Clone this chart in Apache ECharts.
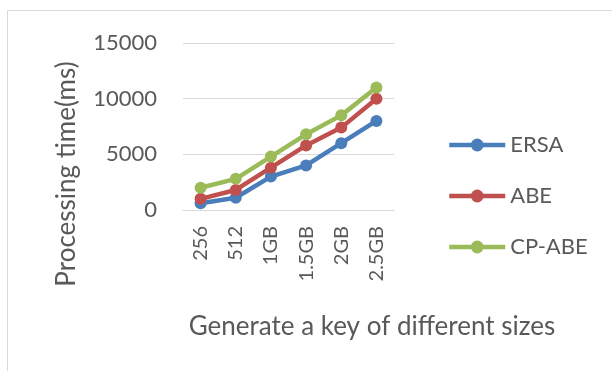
<!DOCTYPE html>
<html><head><meta charset="utf-8">
<script src="https://cdn.jsdelivr.net/npm/echarts@6/dist/echarts.min.js"></script>
<style>html,body{margin:0;padding:0;background:#fff}#c{width:612px;height:371px}</style>
</head><body><div id="c"></div>
<script>
const categories = ['256', '512', '1GB', '1.5GB', '2GB', '2.5GB'];
const ersa = [600, 1100, 3000, 4000, 6000, 8000];
const abe = [1000, 1800, 3800, 5800, 7400, 10000];
const cpabe = [2000, 2800, 4800, 6800, 8500, 11000];
const yTicks = [0, 5000, 10000, 15000];
const seriesNames = ['ERSA', 'ABE', 'CP-ABE'];
const colors = ['#4a7ebb', '#c0504d', '#9bbb59'];
const FONT = 'Lato';
const TXT = '#595959';

const chart = echarts.init(document.getElementById('c'), null, {renderer: 'canvas'});
const mk = (name, data, color) => ({
  name, type: 'line', data,
  symbol: 'circle', symbolSize: 12,
  lineStyle: {width: 4.5, color},
  itemStyle: {color},
  emphasis: {disabled: true}
});
chart.setOption({
  animation: false,
  grid: {left: 183, right: 218, top: 43, bottom: 161},
  xAxis: {
    type: 'category', data: categories, boundaryGap: true,
    axisLine: {show: true, lineStyle: {color: '#d9d9d9', width: 1}},
    axisTick: {show: false},
    axisLabel: {rotate: 90, margin: 16, color: TXT, fontFamily: FONT, fontSize: 20}
  },
  yAxis: {
    type: 'value', min: yTicks[0], max: yTicks[yTicks.length - 1], interval: 5000,
    axisLine: {show: false}, axisTick: {show: false},
    splitLine: {lineStyle: {color: '#d9d9d9', width: 1}},
    axisLabel: {margin: 26, color: TXT, fontFamily: FONT, fontSize: 22, formatter: v => String(v)}
  },
  legend: {
    orient: 'vertical', left: 442, top: 129,
    itemWidth: 56, itemHeight: 16, itemGap: 29,
    lineStyle: {width: 4.5},
    textStyle: {color: TXT, fontFamily: FONT, fontSize: 22},
    data: seriesNames
  },
  graphic: [
    {type: 'rect', shape: {x: 7.5, y: 10.5, width: 620, height: 380}, style: {fill: 'none', stroke: '#d9d9d9', lineWidth: 1}, silent: true},
    {type: 'text', x: 67, y: 174, rotation: Math.PI / 2,
      style: {text: 'Processing time(ms)', fill: TXT, font: '26px ' + FONT, textAlign: 'center', textVerticalAlign: 'middle'}},
    {type: 'text', x: 372, y: 327,
      style: {text: 'Generate a key of different sizes', fill: TXT, font: '26px ' + FONT, textAlign: 'center', textVerticalAlign: 'middle'}}
  ],
  series: [mk(seriesNames[0], ersa, colors[0]), mk(seriesNames[1], abe, colors[1]), mk(seriesNames[2], cpabe, colors[2])]
});
</script></body></html>
